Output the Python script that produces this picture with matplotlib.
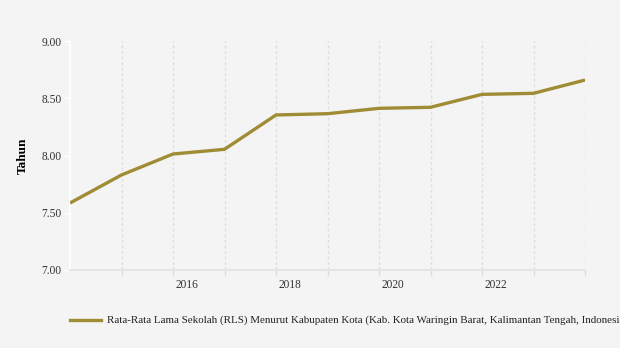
import matplotlib.pyplot as plt
from matplotlib.lines import Line2D

plt.rcParams['font.family'] = ['Liberation Serif', 'DejaVu Serif']

years = [2014, 2015, 2016, 2017, 2018, 2019, 2020, 2021, 2022, 2023, 2024]
rls = [7.585, 7.83, 8.013, 8.054, 8.354, 8.365, 8.412, 8.421, 8.534, 8.543, 8.659]
yticks = [7.0, 7.5, 8.0, 8.5, 9.0]
xlabels = [2016, 2018, 2020, 2022]
series_name = 'Rata-Rata Lama Sekolah (RLS) Menurut Kabupaten Kota (Kab. Kota Waringin Barat, Kalimantan Tengah, Indonesia)'

bg = '#f4f4f4'
col = '#a08c35'

fig = plt.figure(figsize=(6.2, 3.48), dpi=100, facecolor=bg)
ax = fig.add_axes([70 / 620, 1 - 270 / 348, 515 / 620, 229 / 348], facecolor=bg)

ax.plot(years, rls, color=col, lw=2.4, solid_capstyle='butt', zorder=3)

ax.set_xlim(2014, 2024)
ax.set_ylim(7, 9)
ax.set_yticks(yticks)
ax.set_yticklabels(['%.2f' % v for v in yticks], fontsize=8.3, color='#333333')
ax.set_xticks(years[1:])
ax.set_xticklabels([])
ax.tick_params(axis='x', length=4, color='#dddddd', width=1)
ax.tick_params(axis='y', length=4, color='white', width=1, pad=2)
for x in years[1:]:
    ax.axvline(x, color='#dddddd', lw=1, ls=(0, (2, 2)), zorder=1)
for x in xlabels:
    ax.text(x + 0.05, 6.925, str(x), fontsize=8.3, color='#333333', ha='left', va='top',
            transform=ax.transData)

for s in ['top', 'right']:
    ax.spines[s].set_visible(False)
ax.spines['left'].set_color('white')
ax.spines['left'].set_linewidth(1.2)
ax.spines['bottom'].set_color('#e2e2e2')
ax.spines['bottom'].set_linewidth(1.2)

ax.set_ylabel('Tahun', fontsize=9.5, fontweight='bold', labelpad=9)

fig.add_artist(Line2D([70 / 620, 101 / 620], [1 - 320 / 348] * 2, color=col, lw=2.4))
fig.text(107 / 620, 1 - 320 / 348, series_name, fontsize=7.95, va='center', ha='left', color='#222222')

fig.savefig('out.png', dpi=100, facecolor=bg)
